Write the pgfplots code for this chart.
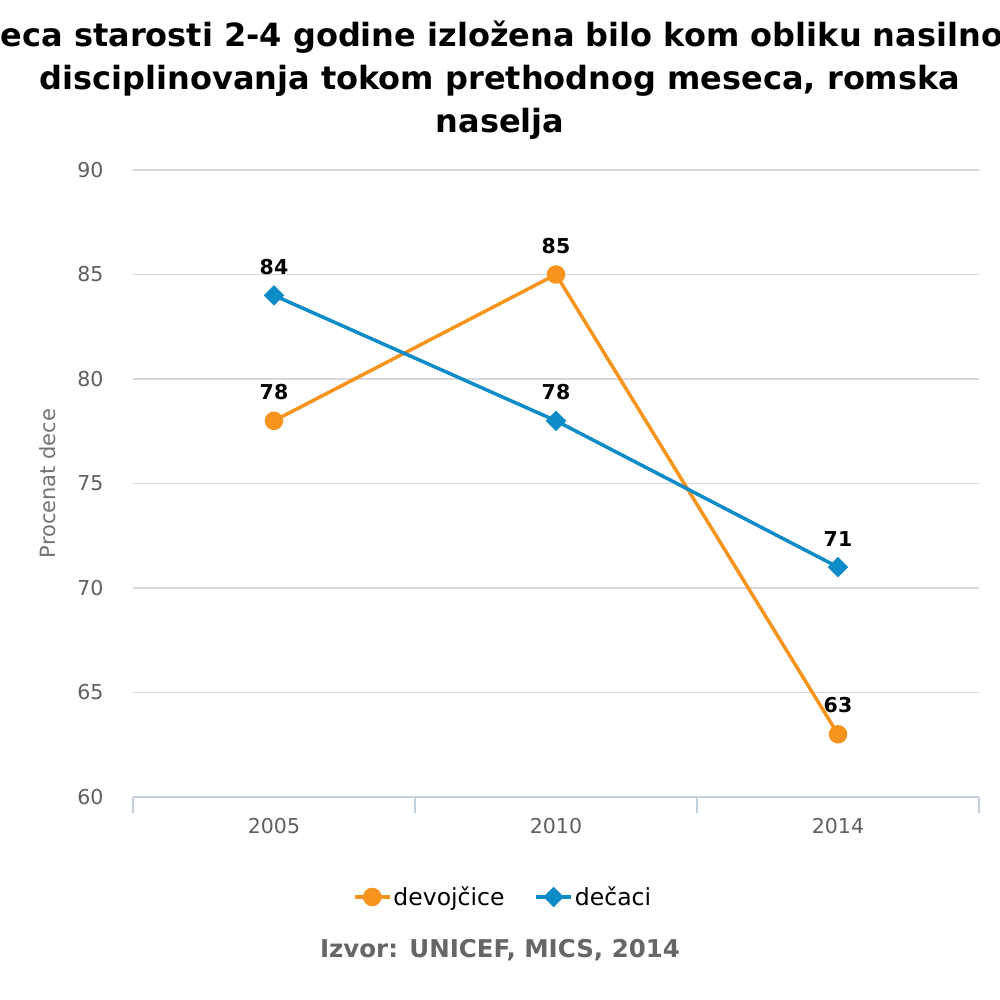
\documentclass[border=0pt]{standalone}
\usepackage{pgfplots}
\pgfplotsset{compat=1.18}
\usepackage{fontspec}
\setmainfont{DejaVu Sans}
\definecolor{cOrange}{HTML}{F7941D}
\definecolor{cBlue}{HTML}{0E8CC7}
\definecolor{cGrid}{HTML}{D9D9D9}
\definecolor{cAxis}{HTML}{C3D0DE}
\definecolor{cTick}{HTML}{5F5F5F}
\begin{document}
\begin{tikzpicture}
\useasboundingbox (0,0) rectangle (1000bp,1000bp);
\fill[white] (0,0) rectangle (1000bp,1000bp);
\begin{axis}[
  at={(133bp,203bp)}, anchor=south west,
  scale only axis, width=846bp, height=627bp,
  xmin=-0.5, xmax=2.5, ymin=60, ymax=90,
  axis x line*=bottom, axis y line*=left,
  y axis line style={draw=none},
  x axis line style={draw=cAxis, line width=1.5bp},
  xtick={0,1,2}, xticklabels={2005,2010,2014},
  minor xtick={-0.5,0.5,1.5,2.5},
  major tick length=0pt, minor tick length=16bp, tick align=outside,
  minor x tick style={draw=cAxis, line width=1.5bp},
  ytick={60,65,...,90}, ytick style={draw=none},
  ymajorgrids, grid style={draw=cGrid, line width=1.5bp},
  /pgf/number format/assume math mode=true,
  tick label style={font=\fontsize{20.5bp}{24bp}\selectfont, text=cTick},
  xticklabel style={yshift=-18bp},
  yticklabel style={xshift=-26bp},
  ylabel={Procenat dece},
  every axis y label/.style={at={(rel axis cs:-0.1005,0.5)}, rotate=90, anchor=center,
     font=\fontsize{21bp}{25bp}\selectfont, text=gray!90!black},
  legend columns=2,
  legend style={draw=none, at={(0.4374,-0.1595)}, anchor=center,
    font=\fontsize{23.5bp}{26bp}\selectfont, /tikz/every even column/.append style={column sep=28bp}},
  legend image code/.code={\draw[mark repeat=2,mark phase=2,#1] plot coordinates {(0bp,0bp) (17.5bp,0bp) (35bp,0bp)};},
  nodes near coords,
  every node near coord/.append style={font=\bfseries\fontsize{20.5bp}{24bp}\selectfont, text=black, yshift=16bp},
  clip=false,
]
\addplot[cOrange, line width=3.5bp, mark=*, mark size=7.5bp, mark options={solid}] coordinates {(0,78) (1,85) (2,63)};
\addlegendentry{devojčice}
\addplot[cBlue, line width=3.5bp, mark=square*, mark size=5.5bp, mark options={solid, rotate=45}] coordinates {(0,84) (1,78) (2,71)};
\addlegendentry{dečaci}
\end{axis}
\node[font=\bfseries\fontsize{32bp}{43bp}\selectfont, align=center] at (500bp,920bp)
  {Deca starosti 2-4 godine izložena bilo kom obliku nasilnog\\disciplinovanja tokom prethodnog meseca, romska\\naselja};
\node[font=\bfseries\fontsize{24.5bp}{26bp}\selectfont, text=gray!80!black] at (500bp,50bp) {Izvor: UNICEF, MICS, 2014};
\end{tikzpicture}
\end{document}
